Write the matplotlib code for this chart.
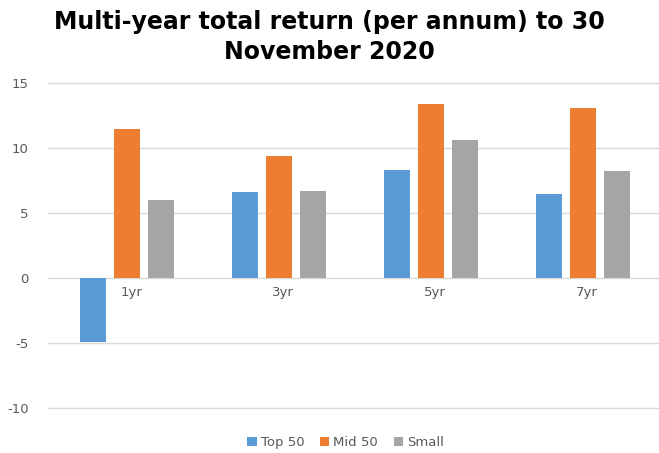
import matplotlib.pyplot as plt
import numpy as np

plt.rcParams['axes.unicode_minus'] = False

# annualised total returns (%) by holding period
periods = ['1yr', '3yr', '5yr', '7yr']
top50 = [-4.9, 6.6, 8.3, 6.5]
mid50 = [11.5, 9.4, 13.4, 13.1]
small = [6.0, 6.7, 10.6, 8.2]

series = ['Top 50', 'Mid 50', 'Small']
colors = ['#5B9BD5', '#ED7D31', '#A5A5A5']
label_color = '#595959'

fig = plt.figure(figsize=(6.59, 4.53), dpi=100)
ax = fig.add_axes([0.073, 0.0993, 0.927, 0.7174])

x = np.arange(len(periods))
width = 0.175
step = 0.224
for i, (vals, name, c) in enumerate(zip([top50, mid50, small], series, colors)):
    ax.bar(x + (i - 1) * step, vals, width, color=c, label=name, zorder=3)

ax.set_xlim(-0.52, 3.5)
ax.set_ylim(-10, 15)
ax.set_yticks([-10, -5, 0, 5, 10, 15])
ax.tick_params(axis='y', length=0, labelsize=9.5, labelcolor=label_color, pad=14)
ax.set_xticks([])
ax.grid(axis='y', color='#D9D9D9', linewidth=1, zorder=0)
for gl in ax.get_ygridlines():
    gl.set_clip_on(False)
for s in ax.spines.values():
    s.set_visible(False)

# category labels sit just under the zero line
for xi, p in zip(x, periods):
    ax.annotate(p, (xi, 0), xytext=(3, -6), textcoords='offset points',
                ha='center', va='top', fontsize=9.5, color=label_color)

fig.text(0.5, 0.952, 'Multi-year total return (per annum) to 30',
         ha='center', va='center', fontsize=17, fontweight='bold')
fig.text(0.5, 0.886, 'November 2020',
         ha='center', va='center', fontsize=17, fontweight='bold')

ax.legend(loc='upper center', bbox_to_anchor=(0.487, -0.05), ncol=3,
          frameon=False, fontsize=9.5, labelcolor=label_color,
          handlelength=0.7, handleheight=0.7, handletextpad=0.3, columnspacing=1.2)

plt.savefig('out.png', dpi=100)
